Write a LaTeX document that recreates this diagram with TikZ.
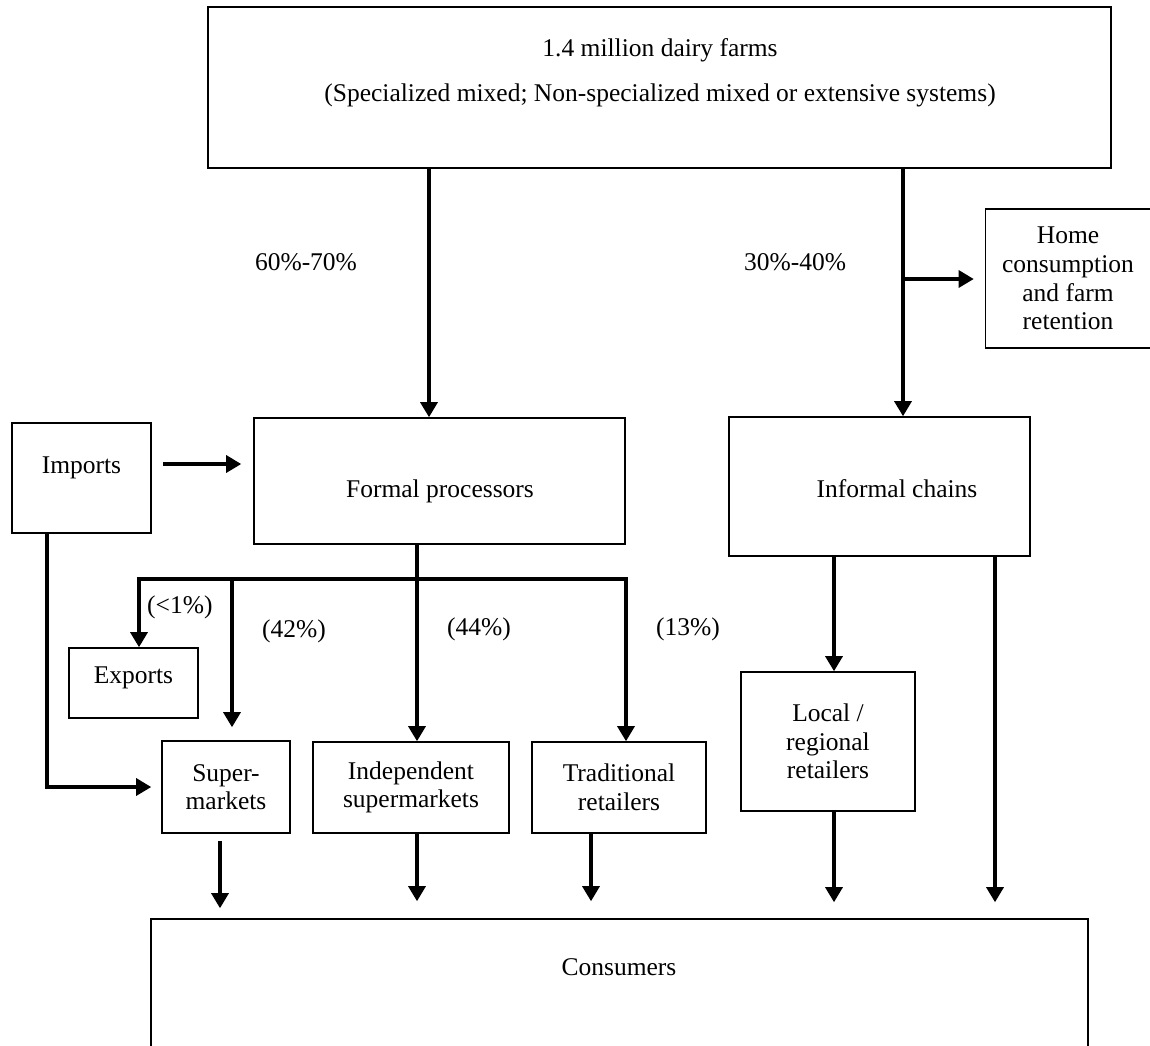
\documentclass[tikz,border=0pt]{standalone}
\usepackage{fontspec}
\setmainfont{Liberation Serif}
\usetikzlibrary{arrows.meta,calc}
\begin{document}
\begin{tikzpicture}[x=1pt,y=-1pt,
  box/.style={draw,line width=1.6pt,rectangle,inner sep=0pt,align=center},
  txt/.style={inner sep=0pt,align=center},
  flow/.style={line width=3.2pt},
  arr/.style={flow,-{Triangle[width=17pt,length=15pt]}},
  font=\fontsize{25.5}{28.6}\selectfont]
\clip (0,0) rectangle (1150,1045);

% boxes
\node[box,minimum width=903,minimum height=161] (farms) at (659.5,87.5) {};
\node[txt,anchor=base] (farmsA) at (660,56) {1.4 million dairy farms};
\node[txt,anchor=base] (farmsB) at (660,101) {(Specialized mixed; Non-specialized mixed or extensive systems)};

\node[box,minimum width=165,minimum height=139] (home) at (1068,278.5)
  {Home\\consumption\\and farm\\retention};

\node[box,minimum width=139,minimum height=110] (imports) at (81.5,478) {};
\node[txt,anchor=base] (importsT) at (81.5,473) {Imports};

\node[box,minimum width=371,minimum height=126] (fp) at (439.5,481) {};
\node[txt,anchor=base] (fpT) at (440,497) {Formal processors};

\node[box,minimum width=301,minimum height=139] (ic) at (879.5,486.5) {};
\node[txt,anchor=base] (icT) at (897,497) {Informal chains};

\node[box,minimum width=129,minimum height=70] (exports) at (133.5,683) {};
\node[txt,anchor=base] (exportsT) at (133.5,683) {Exports};

\node[box,minimum width=128,minimum height=92] (super) at (226,787) {Super-\\markets};
\node[box,minimum width=196,minimum height=91] (indep) at (411,787.5) {Independent\\supermarkets};
\node[box,minimum width=174,minimum height=91] (trad) at (619,787.5) {Traditional\\retailers};
\node[box,minimum width=174,minimum height=139] (local) at (828,741.5) {Local /\\regional\\retailers};

\node[box,minimum width=937,minimum height=200] (cons) at (619.5,1019) {};
\node[txt,anchor=base] (consT) at (619,975) {Consumers};

% share labels
\node[txt,anchor=base] (l6070) at (306,270) {60\%-70\%};
\node[txt,anchor=base] (l3040) at (795,270) {30\%-40\%};
\node[txt,anchor=base west] (lexp) at (147,613) {(<1\%)};
\node[txt,anchor=base west] (l42) at (262,637) {(42\%)};
\node[txt,anchor=base west] (l44) at (447,635) {(44\%)};
\node[txt,anchor=base west] (l13) at (656,635) {(13\%)};

% reference points for connectors
\coordinate (cL) at (429,0);
\coordinate (cR) at (903,0);
\coordinate (hj) at (903,279);
\coordinate (im) at (0,464);
\coordinate (imx) at (47,0);
\coordinate (smy) at (0,787);
\coordinate (split) at (417,579);
\coordinate (sL) at (139,579);
\coordinate (sR) at (626,579);
\coordinate (s42) at (232,579);
\coordinate (icA) at (834,0);
\coordinate (icB) at (995,0);
\coordinate (b1) at (220,0);
\coordinate (b3) at (591,0);

% farm output
\draw[arr] (farms.south -| cL) -- (fp.north -| cL);
\draw[arr] (farms.south -| cR) -- (ic.north -| cR);
\draw[arr,shorten >=11pt] (hj) -- (home.west |- hj);

% imports
\draw[arr,shorten <=11pt,shorten >=12pt] (imports.east |- im) -- (fp.west |- im);
\draw[arr,shorten >=10pt] (imports.south -| imx) |- (super.west |- smy);

% formal processors distribution
\draw[flow] (fp.south -| split) -- (split);
\draw[arr] (sR) -- (sL) -- (exports.north -| sL);
\draw[arr] (sL) -- (sR) -- (trad.north -| sR);
\draw[arr,shorten >=13pt] (s42) -- (super.north -| s42);
\draw[arr] (split) -- (indep.north -| split);

% informal chains
\draw[arr] (ic.south -| icA) -- (local.north -| icA);
\draw[arr,shorten >=16pt] (ic.south -| icB) -- (cons.north -| icB);

% to consumers
\draw[arr,shorten <=7pt,shorten >=10pt] (super.south -| b1) -- (cons.north -| b1);
\draw[arr,shorten >=17pt] (indep.south -| split) -- (cons.north -| split);
\draw[arr,shorten >=17pt] (trad.south -| b3) -- (cons.north -| b3);
\draw[arr,shorten >=16pt] (local.south -| icA) -- (cons.north -| icA);
\end{tikzpicture}
\end{document}
